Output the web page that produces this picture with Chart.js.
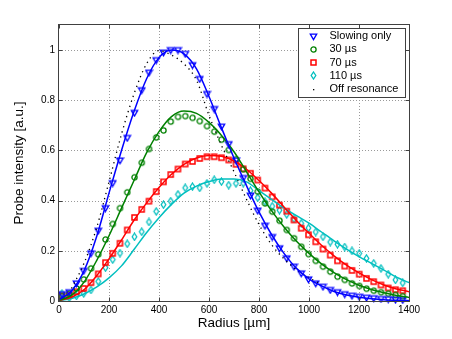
<!DOCTYPE html>
<html>
<head>
<meta charset="utf-8">
<script src="https://cdn.jsdelivr.net/npm/chart.js@4.4.1/dist/chart.umd.min.js"></script>
<style>
  html, body { margin: 0; padding: 0; background: #fff; }
  #spazio { width: 452px; height: 339px; }
</style>
</head>
<body>
<div id="spazio"><canvas id="grafico" width="452" height="339"></canvas></div>
<script>
// measured points (radius in um)
const radiusPts = [12, 41, 70, 99, 128, 157, 186, 215, 244, 273, 302, 331, 360, 389, 418, 447, 476, 505, 534, 563, 592, 621, 650, 679, 708, 737, 766, 795, 824, 853, 882, 911, 940, 969, 998, 1027, 1056, 1085, 1114, 1143, 1172, 1201, 1230, 1259, 1288, 1317, 1346, 1375];

const slowingPts = [0.027, 0.035, 0.07, 0.12, 0.19, 0.28, 0.37, 0.47, 0.56, 0.65, 0.75, 0.84, 0.91, 0.96, 0.99, 1.0, 1.0, 0.985, 0.94, 0.885, 0.825, 0.765, 0.695, 0.625, 0.56, 0.49, 0.42, 0.36, 0.30, 0.255, 0.21, 0.17, 0.137, 0.11, 0.086, 0.07, 0.057, 0.044, 0.035, 0.027, 0.021, 0.017, 0.013, 0.011, 0.008, 0.007, 0.005, 0.004];

const pts30 = [0.02, 0.03, 0.05, 0.086, 0.13, 0.186, 0.245, 0.307, 0.37, 0.433, 0.493, 0.551, 0.606, 0.652, 0.68, 0.715, 0.734, 0.737, 0.73, 0.717, 0.697, 0.675, 0.643, 0.602, 0.565, 0.525, 0.487, 0.436, 0.389, 0.356, 0.32, 0.283, 0.25, 0.216, 0.187, 0.16, 0.137, 0.117, 0.097, 0.084, 0.07, 0.06, 0.049, 0.041, 0.035, 0.029, 0.024, 0.019];

const pts70 = [0.02, 0.024, 0.037, 0.05, 0.073, 0.108, 0.153, 0.19, 0.23, 0.283, 0.333, 0.365, 0.398, 0.436, 0.475, 0.504, 0.526, 0.546, 0.556, 0.568, 0.575, 0.575, 0.571, 0.562, 0.545, 0.527, 0.509, 0.482, 0.45, 0.415, 0.382, 0.358, 0.323, 0.29, 0.264, 0.236, 0.207, 0.183, 0.16, 0.139, 0.122, 0.107, 0.09, 0.077, 0.064, 0.052, 0.045, 0.041];

const pts110 = [0.03, 0.013, 0.02, 0.03, 0.044, 0.078, 0.133, 0.165, 0.191, 0.228, 0.256, 0.276, 0.315, 0.357, 0.384, 0.398, 0.425, 0.451, 0.456, 0.451, 0.469, 0.483, 0.476, 0.462, 0.469, 0.47, 0.44, 0.412, 0.396, 0.378, 0.362, 0.345, 0.327, 0.31, 0.291, 0.275, 0.256, 0.235, 0.226, 0.215, 0.2, 0.19, 0.17, 0.15, 0.13, 0.107, 0.084, 0.072];

// fitted curves
const radiusFit = [0, 50, 100, 150, 200, 250, 300, 350, 400, 450, 500, 550, 600, 650, 700, 750, 800, 850, 900, 950, 1000, 1050, 1100, 1150, 1200, 1250, 1300, 1350, 1400];

const slowingFit = [0.005, 0.04, 0.12, 0.255, 0.43, 0.6, 0.755, 0.885, 0.97, 1.0, 0.985, 0.925, 0.815, 0.69, 0.57, 0.46, 0.355, 0.265, 0.19, 0.13, 0.088, 0.06, 0.038, 0.024, 0.015, 0.009, 0.005, 0.003, 0.002];

const fit30 = [0.003, 0.022, 0.075, 0.16, 0.26, 0.37, 0.48, 0.59, 0.675, 0.735, 0.757, 0.748, 0.712, 0.66, 0.595, 0.515, 0.435, 0.36, 0.295, 0.238, 0.19, 0.148, 0.113, 0.085, 0.063, 0.046, 0.033, 0.022, 0.014];

const fit70 = [0.002, 0.015, 0.045, 0.1, 0.168, 0.243, 0.322, 0.39, 0.452, 0.505, 0.545, 0.57, 0.58, 0.577, 0.558, 0.525, 0.48, 0.43, 0.375, 0.32, 0.27, 0.222, 0.18, 0.143, 0.112, 0.085, 0.064, 0.048, 0.037];

const fit110 = [0.002, 0.01, 0.028, 0.055, 0.092, 0.14, 0.205, 0.272, 0.332, 0.385, 0.43, 0.458, 0.476, 0.486, 0.486, 0.475, 0.44, 0.405, 0.37, 0.34, 0.31, 0.275, 0.24, 0.207, 0.177, 0.15, 0.123, 0.095, 0.073];

// off resonance (dotted)
const radiusOff = [50, 100, 150, 200, 250, 300, 350, 400, 450, 500, 550, 600, 650, 700, 750, 800, 850, 900, 950, 1000, 1050];
const offRes = [0.05, 0.15, 0.29, 0.475, 0.665, 0.825, 0.945, 0.998, 0.98, 0.945, 0.88, 0.74, 0.62, 0.515, 0.405, 0.305, 0.225, 0.168, 0.125, 0.093, 0.065];

const xTicks = [0, 200, 400, 600, 800, 1000, 1200, 1400];
const yTicks = [0, 0.2, 0.4, 0.6, 0.8, 1];
const legendLabels = ['Slowing only', '30 \u00b5s', '70 \u00b5s', '110 \u00b5s', 'Off resonance'];

const BLU = '#0000ff', VERDE = '#008000', ROSSO = '#ff0000', CIANO = '#00bfbf';
const FONT = '"Liberation Sans", Arial, sans-serif';

// small marker images
function marker(tipo, colore) {
    let c = document.createElement('canvas');
    c.width = 9; c.height = 9;
    let g = c.getContext('2d');
    g.strokeStyle = colore;
    g.fillStyle = colore;
    g.lineWidth = 1.3;
    g.beginPath();
    if (tipo === 'tri') {
        g.moveTo(1.3, 2.2); g.lineTo(7.7, 2.2); g.lineTo(4.5, 7.6); g.closePath(); g.stroke();
    } else if (tipo === 'cerchio') {
        g.arc(4.5, 4.5, 2.6, 0, Math.PI * 2); g.stroke();
    } else if (tipo === 'quadrato') {
        g.lineWidth = 1.5;
        g.rect(2, 2, 5, 5); g.stroke();
    } else if (tipo === 'rombo') {
        g.moveTo(4.5, 1); g.lineTo(6.8, 4.5); g.lineTo(4.5, 8); g.lineTo(2.2, 4.5); g.closePath(); g.stroke();
    } else {
        g.fillStyle = '#000';
        g.fillRect(4, 4, 1.3, 1.3);
    }
    return c;
}

const markers = [marker('tri', BLU), marker('cerchio', VERDE), marker('quadrato', ROSSO), marker('rombo', CIANO), marker('punto', '#000')];

function punti(xs, ys) {
    return xs.map((x, i) => ({x: x, y: ys[i]}));
}

function serieMarker(ys, img) {
    return {data: punti(radiusPts, ys), showLine: false, pointStyle: img, pointRadius: 4, pointHoverRadius: 4, clip: 8};
}

function serieFit(ys, colore) {
    return {data: punti(radiusFit, ys), borderColor: colore, borderWidth: 1.5, pointRadius: 0, cubicInterpolationMode: 'monotone', fill: false};
}

// grid, box and inward ticks
const cornice = {
    id: 'cornice',
    beforeDatasetsDraw(chart) {
        const {ctx, chartArea: a, scales: {x, y}} = chart;
        ctx.save();
        ctx.strokeStyle = '#9a9a9a';
        ctx.lineWidth = 1;
        ctx.setLineDash([1, 2]);
        ctx.beginPath();
        xTicks.forEach(v => {
            if (v > x.min && v < x.max) {
                let px = Math.round(x.getPixelForValue(v)) + 0.5;
                ctx.moveTo(px, a.top); ctx.lineTo(px, a.bottom);
            }
        });
        yTicks.forEach(v => {
            if (v > y.min && v < y.max) {
                let py = Math.round(y.getPixelForValue(v)) + 0.5;
                ctx.moveTo(a.left, py); ctx.lineTo(a.right, py);
            }
        });
        ctx.stroke();
        ctx.restore();
    },
    afterDatasetsDraw(chart) {
        const {ctx, chartArea: a, scales: {x, y}} = chart;
        const l = Math.round(a.left) - 0.5, r = Math.round(a.right) + 0.5;
        const t = Math.round(a.top) - 0.5, b = Math.round(a.bottom) + 0.5;
        ctx.save();
        ctx.strokeStyle = '#404040';
        ctx.lineWidth = 1;
        ctx.strokeRect(l, t, r - l, b - t);
        ctx.beginPath();
        xTicks.forEach(v => {
            let px = Math.round(x.getPixelForValue(v)) + 0.5;
            ctx.moveTo(px, b); ctx.lineTo(px, b - 4);
            ctx.moveTo(px, t); ctx.lineTo(px, t + 4);
        });
        yTicks.forEach(v => {
            let py = Math.round(y.getPixelForValue(v)) + 0.5;
            ctx.moveTo(l, py); ctx.lineTo(l + 4, py);
            ctx.moveTo(r, py); ctx.lineTo(r - 4, py);
        });
        ctx.stroke();
        ctx.restore();
    },
    afterDraw(chart) {
        // legend box, top right inside the axes
        const {ctx, chartArea: a} = chart;
        const w = 107, h = 69;
        const bx = Math.round(a.right) - 3.5 - w, by = Math.round(a.top) + 3.5;
        ctx.save();
        ctx.fillStyle = '#fff';
        ctx.fillRect(bx, by, w, h);
        ctx.strokeStyle = '#404040';
        ctx.lineWidth = 1;
        ctx.strokeRect(bx, by, w, h);
        ctx.font = '11px ' + FONT;
        ctx.fillStyle = '#000';
        ctx.textBaseline = 'middle';
        legendLabels.forEach((testo, i) => {
            let cy = by + 7.5 + i * 13.3;
            ctx.drawImage(markers[i], Math.round(bx + 15 - 4.5), Math.round(cy - 4.5));
            ctx.fillText(testo, bx + 31, cy);
        });
        ctx.restore();
    }
};

new Chart(document.getElementById('grafico'), {
    type: 'line',
    data: {
        datasets: [
            serieFit(slowingFit, BLU),
            serieFit(fit30, VERDE),
            serieFit(fit70, ROSSO),
            serieFit(fit110, CIANO),
            {data: punti(radiusOff, offRes), borderColor: '#000', borderWidth: 1.3, borderDash: [1.3, 4], pointRadius: 0, cubicInterpolationMode: 'monotone', fill: false},
            serieMarker(slowingPts, markers[0]),
            serieMarker(pts30, markers[1]),
            serieMarker(pts70, markers[2]),
            serieMarker(pts110, markers[3])
        ]
    },
    options: {
        responsive: false,
        animation: false,
        events: [],
        layout: {padding: {top: 25, right: 43, left: 0, bottom: 0}},
        plugins: {legend: {display: false}, tooltip: {enabled: false}},
        scales: {
            x: {
                type: 'linear', min: 0, max: 1400,
                afterBuildTicks: s => { s.ticks = xTicks.map(v => ({value: v})); },
                afterFit: s => { s.height = 38; },
                grid: {display: false, drawTicks: false},
                border: {display: false},
                ticks: {font: {family: FONT, size: 10}, color: '#000', padding: 3, maxRotation: 0, autoSkip: false, callback: v => String(v)},
                title: {display: true, text: 'Radius [\u00b5m]', color: '#000', font: {family: FONT, size: 13.5}, padding: {top: 0, bottom: 7.5}}
            },
            y: {
                type: 'linear', min: 0, max: 1.1,
                afterBuildTicks: s => { s.ticks = yTicks.map(v => ({value: v})); },
                afterFit: s => { s.width = 59; },
                grid: {display: false, drawTicks: false},
                border: {display: false},
                ticks: {font: {family: FONT, size: 10}, color: '#000', padding: 4, callback: v => String(+v.toFixed(1))},
                title: {display: true, text: 'Probe intensity [a.u.]', color: '#000', font: {family: FONT, size: 13.5}, padding: {top: 11, bottom: 0}}
            }
        }
    },
    plugins: [cornice]
});
</script>
</body>
</html>
